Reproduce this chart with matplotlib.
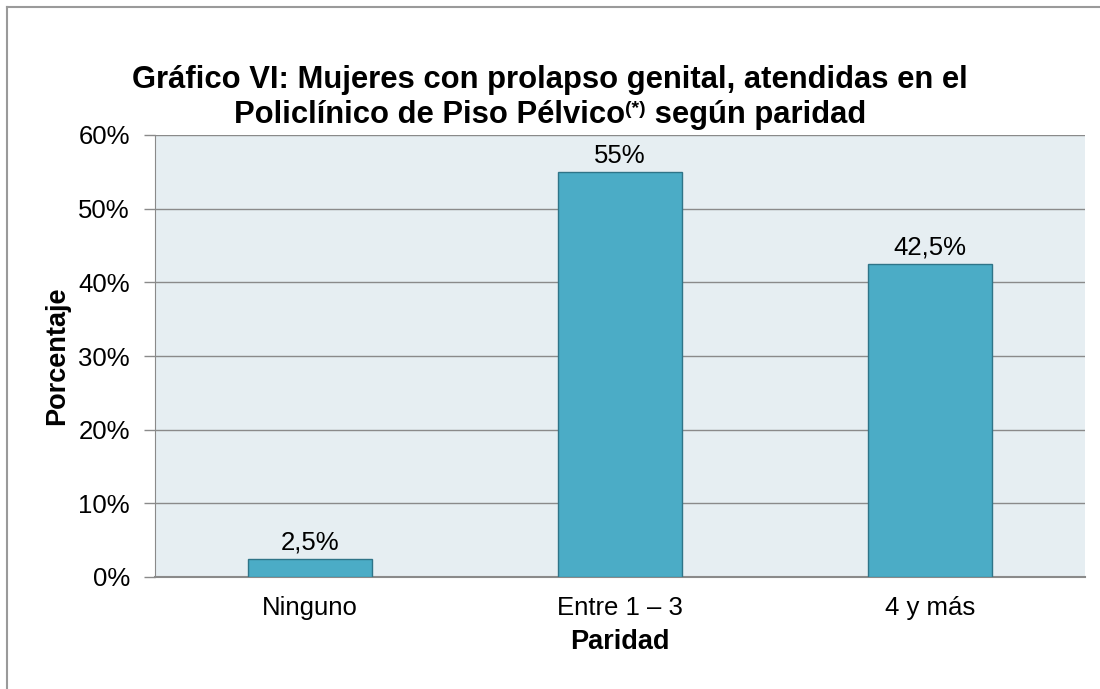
import matplotlib
matplotlib.use('Agg')
import matplotlib.pyplot as plt
from matplotlib.ticker import FuncFormatter

categories = ['Ninguno', 'Entre 1 – 3', '4 y más']
values = [2.5, 55, 42.5]
value_labels = ['2,5%', '55%', '42,5%']
y_ticks = [0, 10, 20, 30, 40, 50, 60]

title_line1 = 'Gráfico VI: Mujeres con prolapso genital, atendidas en el'
title_line2_parts = ['Policlínico de Piso Pélvico', '(*)', ' según paridad']

plt.rcParams['font.family'] = ['Liberation Sans', 'DejaVu Sans']

W, H = 1100, 689
fig = plt.figure(figsize=(11, 6.89), dpi=100)
ax = fig.add_axes([155 / W, 1 - 577 / H, (1085 - 155) / W, (577 - 135) / H])

# outer frame (only top and left visible in the original)
fig.add_artist(plt.Line2D([7 / W, 7 / W], [0, 1 - 7 / H], color='#9a9a9a', lw=1.5))
fig.add_artist(plt.Line2D([7 / W, 1], [1 - 7 / H, 1 - 7 / H], color='#9a9a9a', lw=1.5))

ax.set_facecolor('#E6EEF2')
x = range(len(categories))
bars = ax.bar(x, values, width=0.4, color='#4BACC6', edgecolor='#2F7488',
              linewidth=1, zorder=3)
for b, lab in zip(bars, value_labels):
    ax.annotate(lab, (b.get_x() + b.get_width() / 2, b.get_height()),
                xytext=(0, 3), textcoords='offset points',
                ha='center', va='bottom', fontsize=18.5, zorder=4)

ax.set_xlim(-0.5, 2.5)
ax.set_ylim(0, 60)
ax.set_yticks(y_ticks)
ax.yaxis.set_major_formatter(FuncFormatter(lambda v, p: f'{v:.0f}%'))
ax.set_xticks(list(x))
ax.set_xticklabels(categories)
ax.grid(axis='y', color='#8a8a8a', lw=1, zorder=1)
ax.tick_params(axis='y', length=8, width=1, color='#8a8a8a', labelsize=18.5, pad=10)
ax.tick_params(axis='x', length=0, labelsize=18.5, pad=14)
for s in ['top', 'right']:
    ax.spines[s].set_visible(False)
ax.spines['left'].set_color('#8a8a8a')
ax.spines['bottom'].set_color('#8a8a8a')
ax.spines['bottom'].set_linewidth(1.5)

ax.set_xlabel('Paridad', fontsize=19.5, fontweight='bold', labelpad=6)
ax.set_ylabel('Porcentaje', fontsize=19.5, fontweight='bold', labelpad=6)

# title
fig.text(0.5, 1 - 80 / H, title_line1, ha='center', va='center',
         fontsize=22.3, fontweight='bold')
renderer = fig.canvas.get_renderer()
sizes = [22.3, 14, 22.3]
texts = []
for part, fs in zip(title_line2_parts, sizes):
    t = fig.text(0, 0, part, fontsize=fs, fontweight='bold', va='baseline')
    texts.append(t)
widths = [t.get_window_extent(renderer).width for t in texts]
total = sum(widths)
x0 = (W - total) / 2
base = 1 - 123 / H
for t, w, fs in zip(texts, widths, sizes):
    yy = base + (9 / H if fs == 14 else 0)
    t.set_position((x0 / W, yy))
    x0 += w

fig.savefig('out.png', dpi=100)
